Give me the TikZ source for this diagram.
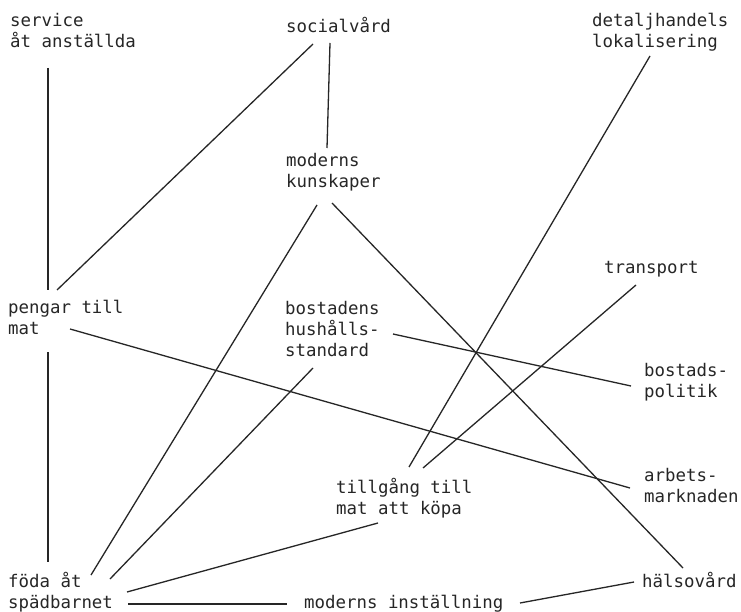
\documentclass[tikz,border=0pt]{standalone}
\usepackage{fontspec}
\newfontfamily\typew{DejaVu Sans Mono}
\begin{document}
\begin{tikzpicture}[x=1pt,y=-1pt,
  term/.style={anchor=north west, inner sep=0pt, align=left, text=black!85,
    font=\typew\fontsize{17.4}{21}\selectfont,
    execute at begin node={\rule{0pt}{15pt}}},
  link/.style={draw=black!85, line width=1.3pt}]
\useasboundingbox[fill=white] (0,0) rectangle (741,612);

% factors
\node[term] (svc)   at (10,13)   {service\\åt anställda};
\node[term] (soc)   at (286,17)  {socialvård};
\node[term] (det)   at (592,13)  {detaljhandels\\lokalisering};
\node[term] (mk)    at (286,153) {moderns\\kunskaper};
\node[term] (pen)   at (8,300)   {pengar till\\mat};
\node[term] (trn)   at (604,258) {transport};
\node[term] (bos)   at (285,301) {bostadens\\hushålls-\\standard};
\node[term] (bpol)  at (644,363) {bostads-\\politik};
\node[term] (arb)   at (644,468) {arbets-\\marknaden};
\node[term] (till)  at (336,478) {tillgång till\\mat att köpa};
\node[term] (foda)  at (8,572)   {föda åt\\spädbarnet};
\node[term] (minst) at (304,593) {moderns inställning};
\node[term] (hals)  at (642,572) {hälsovård};

% links between factors
\draw[link] ([shift={(38,55)}]svc.north west)  -- ([shift={(40,-10)}]pen.north west);
\draw[link] ([shift={(27,27)}]soc.north west)  -- ([shift={(49,-10)}]pen.north west);
\draw[link] ([shift={(44,26)}]soc.north west)  -- ([shift={(41,-5)}]mk.north west);
\draw[link] ([shift={(58,43)}]det.north west)  -- ([shift={(73,-11)}]till.north west);
\draw[link] ([shift={(31,52)}]mk.north west)   -- ([shift={(83,3)}]foda.north west);
\draw[link] ([shift={(46,50)}]mk.north west)   -- ([shift={(41,-4)}]hals.north west);
\draw[link] ([shift={(62,29)}]pen.north west)  -- ([shift={(-14,20)}]arb.north west);
\draw[link] ([shift={(40,52)}]pen.north west)  -- ([shift={(40,-10)}]foda.north west);
\draw[link] ([shift={(108,33)}]bos.north west) -- ([shift={(-13,23)}]bpol.north west);
\draw[link] ([shift={(28,67)}]bos.north west)  -- ([shift={(102,7)}]foda.north west);
\draw[link] ([shift={(32,27)}]trn.north west)  -- ([shift={(87,-10)}]till.north west);
\draw[link] ([shift={(42,45)}]till.north west) -- ([shift={(119,20)}]foda.north west);
\draw[link] ([shift={(120,32)}]foda.north west) -- ([shift={(-17,11)}]minst.north west);
\draw[link] ([shift={(216,10)}]minst.north west) -- ([shift={(-8,10)}]hals.north west);
\end{tikzpicture}
\end{document}
